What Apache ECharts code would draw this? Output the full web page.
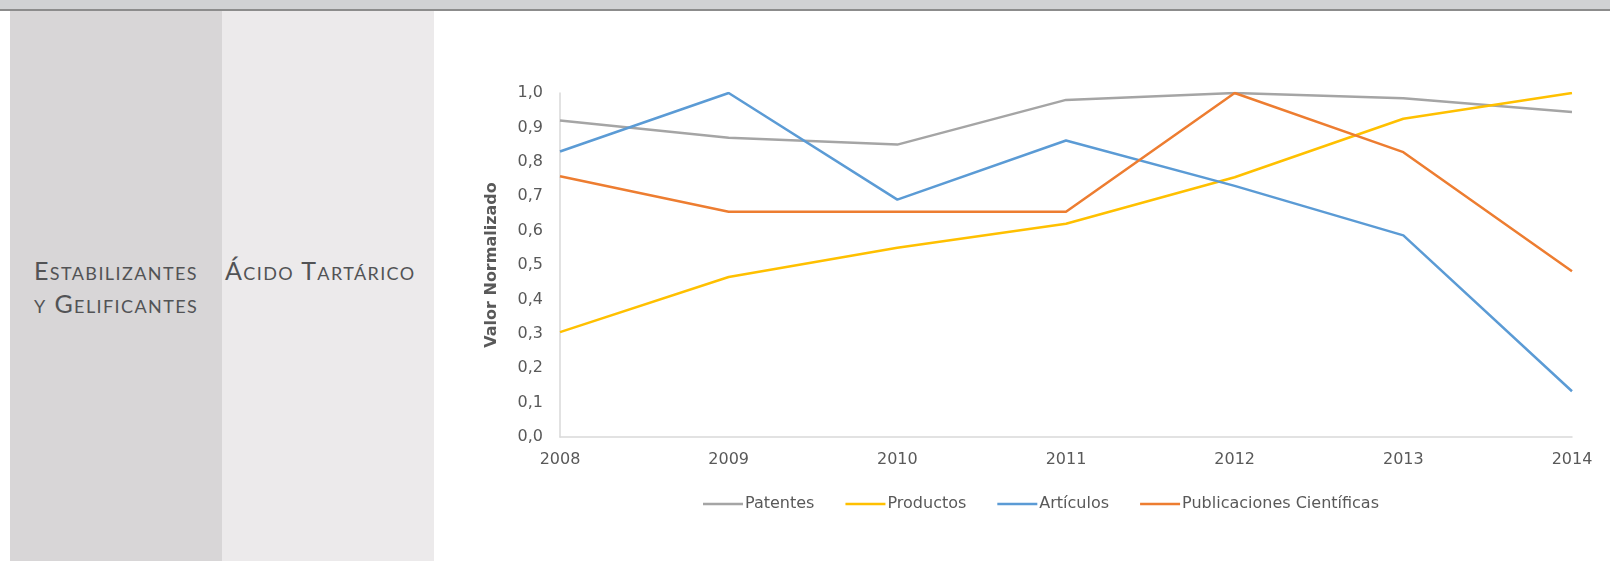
<!DOCTYPE html>
<html>
<head>
<meta charset="utf-8">
<script src="https://cdn.jsdelivr.net/npm/echarts@6/dist/echarts.min.js"></script>
<style>
  html, body { margin: 0; padding: 0; width: 1610px; height: 561px; background: #ffffff; overflow: hidden; }
  #topband { position: absolute; left: 0; top: 0; width: 1610px; height: 9px; background: #d1d2d4; }
  #topline { position: absolute; left: 0; top: 9px; width: 1610px; height: 2px; background: #8c8c8c; }
  #col1 { position: absolute; left: 10px; top: 11px; width: 212px; height: 550px; background: #d8d6d7; }
  #col2 { position: absolute; left: 222px; top: 11px; width: 212px; height: 550px; background: #eceaeb; }
  .cell { position: absolute; font-family: "Lato", "Open Sans", sans-serif; font-variant: small-caps; color: #525355; font-size: 25px; letter-spacing: 1.4px; line-height: 33px; }
  #t1 { left: 34px; top: 254px; }
  #t2 { left: 225px; top: 254px; }
  #chart { position: absolute; left: 0; top: 0; width: 1610px; height: 561px; }
</style>
</head>
<body>
<div id="topband"></div>
<div id="topline"></div>
<div id="col1"></div>
<div id="col2"></div>
<div class="cell" id="t1">Estabilizantes<br>y Gelificantes</div>
<div class="cell" id="t2">Ácido Tartárico</div>
<div id="chart"></div>
<script>
const years = ['2008', '2009', '2010', '2011', '2012', '2013', '2014'];
const patentes = [0.92, 0.87, 0.85, 0.98, 1.00, 0.985, 0.945];
const productos = [0.305, 0.465, 0.55, 0.62, 0.755, 0.925, 1.00];
const articulos = [0.83, 1.00, 0.69, 0.862, 0.73, 0.586, 0.133];
const publicaciones = [0.758, 0.655, 0.655, 0.655, 1.00, 0.828, 0.482];
const seriesNames = ['Patentes', 'Productos', 'Artículos', 'Publicaciones Científicas'];
const seriesColors = ['#a5a5a5', '#ffc000', '#5b9bd5', '#ed7d31'];
const yTitle = 'Valor Normalizado';

const chart = echarts.init(document.getElementById('chart'), null, { renderer: 'canvas' });
const dataSets = [patentes, productos, articulos, publicaciones];
const font = '"DejaVu Sans", Verdana, sans-serif';
chart.setOption({
  backgroundColor: 'transparent',
  animation: false,
  color: seriesColors,
  grid: { left: 560, right: 38, top: 93, bottom: 124, containLabel: false },
  legend: {
    data: seriesNames,
    left: 698,
    top: 491,
    icon: 'rect',
    itemWidth: 40,
    itemHeight: 2.5,
    itemGap: 31,
    textStyle: { color: '#595959', fontSize: 16, fontFamily: font, padding: [0, 0, 0, -3] }
  },
  xAxis: {
    type: 'category',
    data: years,
    boundaryGap: false,
    axisLine: { show: true, lineStyle: { color: '#d9d9d9', width: 1.5 } },
    axisTick: { show: false },
    axisLabel: { color: '#595959', fontSize: 16, fontFamily: font, margin: 15 },
    splitLine: { show: false }
  },
  yAxis: {
    type: 'value',
    min: 0,
    max: 1,
    interval: 0.1,
    name: yTitle,
    nameLocation: 'middle',
    nameGap: 60,
    nameTextStyle: { color: '#595959', fontSize: 16, fontWeight: 'bold', fontFamily: font },
    axisLine: { show: true, lineStyle: { color: '#d9d9d9', width: 1.5 } },
    axisTick: { show: false },
    axisLabel: { color: '#595959', fontSize: 16, fontFamily: font, margin: 17,
      formatter: v => v.toFixed(1).replace('.', ',') },
    splitLine: { show: false }
  },
  series: dataSets.map((d, i) => ({
    name: seriesNames[i],
    type: 'line',
    data: d,
    symbol: 'none',
    lineStyle: { width: 2.5, color: seriesColors[i] },
    itemStyle: { color: seriesColors[i] }
  }))
});
</script>
</body>
</html>
